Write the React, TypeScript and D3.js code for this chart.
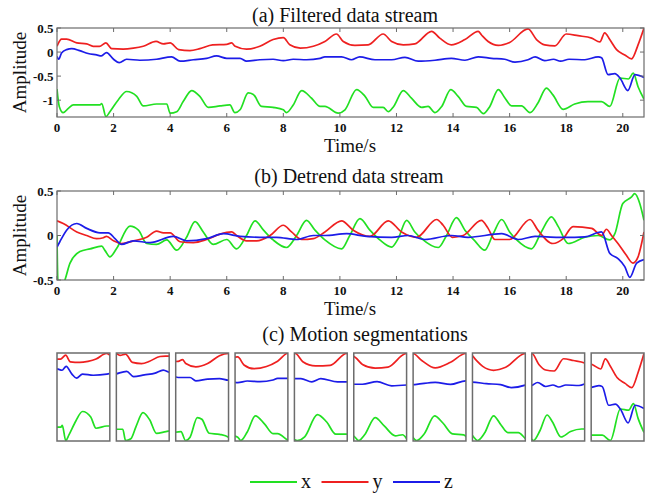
import React, { useEffect, useRef } from "react";
import * as d3 from "d3";

type Pt = [number, number];

// (a) filtered stream, [time, amplitude]
const filteredX: Pt[] = [
  [0, -0.77], [0.08, -1.13], [0.22, -1.26], [0.4, -1.17], [0.58, -1.1], [1.17, -1.1], [1.52, -1.1],
  [1.58, -1.07], [1.73, -1.34], [1.87, -1.24], [2.17, -0.99], [2.46, -0.82], [2.82, -0.92], [3.05, -1.12],
  [3.52, -1.08], [3.88, -1.08], [4.0, -1.27], [4.23, -1.24], [4.46, -1.03], [4.76, -0.8], [5.05, -0.92],
  [5.35, -1.15], [5.76, -1.12], [6.11, -1.1], [6.29, -1.26], [6.47, -1.2], [6.76, -0.85], [6.94, -0.88],
  [7.23, -1.13], [7.64, -1.15], [8.0, -1.2], [8.11, -1.26], [8.35, -1.1], [8.65, -0.8], [9.0, -0.96],
  [9.3, -1.13], [9.47, -1.13], [9.94, -1.27], [10.18, -1.2], [10.59, -0.78], [10.89, -0.92], [11.18, -1.15],
  [11.53, -1.15], [11.71, -1.24], [11.9, -1.13], [12.24, -0.8], [12.53, -0.96], [12.89, -1.15], [13.12, -1.13],
  [13.36, -1.26], [13.6, -1.13], [13.92, -0.78], [14.18, -0.92], [14.48, -1.13], [14.83, -1.15], [15.07, -1.28],
  [15.3, -1.13], [15.6, -0.78], [15.84, -0.96], [16.07, -1.12], [16.42, -1.12], [16.72, -1.26], [17.0, -1.06],
  [17.3, -0.75], [17.53, -0.89], [17.89, -1.19], [18.3, -1.08], [18.77, -1.03], [19.25, -1.03], [19.54, -1.13],
  [19.9, -0.54], [20.2, -0.56], [20.37, -0.44], [20.54, -0.72], [20.75, -0.98],
];
const filteredY: Pt[] = [
  [0, 0.12], [0.16, 0.27], [0.34, 0.27], [0.7, 0.19], [1.05, 0.17], [1.28, 0.12], [1.5, 0.12], [1.73, 0.19],
  [1.93, 0.07], [2.34, 0.06], [2.7, 0.08], [3.05, 0.12], [3.5, 0.22], [3.76, 0.17], [4.0, 0.19], [4.3, 0.05],
  [4.7, 0.03], [5.05, 0.07], [5.5, 0.15], [6.0, 0.16], [6.17, 0.19], [6.3, 0.12], [6.7, 0.06], [7.17, 0.12],
  [7.64, 0.26], [8.0, 0.3], [8.23, 0.15], [8.6, 0.08], [9.06, 0.12], [9.47, 0.22], [9.88, 0.375], [10.12, 0.22],
  [10.53, 0.14], [11.0, 0.15], [11.53, 0.375], [11.83, 0.22], [12.24, 0.15], [12.65, 0.17], [13.24, 0.43],
  [13.53, 0.29], [13.94, 0.15], [14.42, 0.26], [14.89, 0.43], [15.0, 0.36], [15.24, 0.22], [15.6, 0.14],
  [16.0, 0.2], [16.65, 0.48], [16.95, 0.26], [17.24, 0.15], [17.6, 0.13], [18.0, 0.375], [18.42, 0.34],
  [18.9, 0.29], [19.19, 0.21], [19.36, 0.4], [19.54, 0.26], [19.78, 0.05], [20.07, -0.06], [20.31, -0.14],
  [20.54, 0.15], [20.75, 0.5],
];
const filteredZ: Pt[] = [
  [0, -0.09], [0.06, -0.15], [0.16, -0.02], [0.34, 0.05], [0.52, 0.07], [0.8, 0.03], [1.1, -0.03], [1.4, -0.06],
  [1.57, -0.08], [1.75, -0.01], [2.0, -0.15], [2.2, -0.22], [2.46, -0.15], [2.93, -0.17], [3.52, -0.15],
  [4.05, -0.1], [4.35, -0.19], [4.82, -0.16], [5.29, -0.13], [5.64, -0.08], [6.0, -0.13], [6.47, -0.13],
  [6.7, -0.19], [7.17, -0.16], [7.64, -0.15], [8.0, -0.18], [8.35, -0.15], [8.82, -0.16], [9.3, -0.13],
  [9.47, -0.1], [10.06, -0.1], [10.41, -0.16], [10.7, -0.1], [11.24, -0.16], [11.83, -0.16], [12.3, -0.11],
  [12.77, -0.19], [13.36, -0.17], [13.94, -0.13], [14.42, -0.17], [14.89, -0.1], [15.36, -0.13], [15.83, -0.15],
  [16.19, -0.21], [16.65, -0.16], [16.9, -0.1], [17.24, -0.18], [17.55, -0.15], [17.8, -0.19], [18.1, -0.15],
  [18.66, -0.16], [19.13, -0.1], [19.25, -0.12], [19.48, -0.47], [19.72, -0.45], [19.9, -0.54], [20.18, -0.8],
  [20.43, -0.47], [20.75, -0.53],
];

// (b) detrended stream
const detrendX: Pt[] = [
  [0, 0.0], [0.03, -0.5], [0.15, -0.6], [0.28, -0.5], [0.46, -0.31], [0.81, -0.18], [1.17, -0.15], [1.58, -0.12],
  [1.7, -0.17], [1.87, -0.24], [2.1, -0.15], [2.58, 0.105], [2.88, 0.06], [3.17, -0.09], [3.52, -0.1],
  [3.88, -0.05], [4.23, -0.165], [4.58, -0.02], [4.88, 0.155], [5.17, 0.04], [5.52, -0.1], [6.0, -0.045],
  [6.35, -0.15], [6.7, 0.0], [7.0, 0.165], [7.3, 0.06], [7.64, -0.05], [8.11, -0.135], [8.47, 0.0], [8.82, 0.17],
  [9.12, 0.06], [9.47, -0.05], [10.06, -0.15], [10.35, 0.0], [10.71, 0.19], [11.06, 0.06], [11.41, -0.05],
  [11.83, -0.13], [12.06, -0.035], [12.36, 0.17], [12.65, 0.04], [12.89, -0.035], [13.48, -0.135], [13.77, 0.0],
  [14.12, 0.2], [14.42, 0.06], [14.77, -0.06], [15.12, -0.165], [15.42, 0.02], [15.72, 0.18], [16.0, 0.04],
  [16.25, -0.05], [16.77, -0.15], [17.12, 0.04], [17.48, 0.21], [17.72, 0.1], [18.07, -0.09], [18.66, -0.02],
  [19.13, 0.0], [19.54, -0.05], [19.72, 0.02], [20.0, 0.36], [20.3, 0.43], [20.42, 0.47], [20.6, 0.36],
  [20.75, 0.17],
];
const detrendY: Pt[] = [
  [0, 0.165], [0.22, 0.135], [0.7, 0.04], [1.05, 0.0], [1.4, -0.035], [1.64, -0.025], [1.75, -0.01], [2.0, -0.06],
  [2.28, -0.09], [2.7, -0.06], [3.17, -0.02], [3.52, 0.05], [3.76, 0.03], [4.0, 0.03], [4.35, -0.07],
  [4.82, -0.08], [5.29, -0.045], [5.76, 0.015], [6.17, 0.04], [6.35, 0.0], [6.7, -0.06], [7.06, -0.06],
  [7.53, 0.0], [8.0, 0.115], [8.29, 0.04], [8.65, -0.045], [9.06, -0.035], [9.47, 0.04], [10.06, 0.165],
  [10.47, 0.06], [11.06, -0.01], [11.71, 0.165], [12.18, 0.04], [12.71, -0.02], [13.42, 0.18], [13.65, 0.115],
  [13.97, -0.02], [14.36, 0.0], [15.0, 0.17], [15.24, 0.08], [15.48, -0.045], [16.0, -0.045], [16.72, 0.18],
  [17.0, 0.06], [17.53, -0.09], [17.89, -0.035], [18.24, 0.1], [18.9, 0.08], [19.25, 0.0], [19.42, 0.07],
  [19.6, 0.0], [19.83, -0.09], [20.12, -0.22], [20.36, -0.31], [20.54, -0.24], [20.75, 0.04],
];
const detrendZ: Pt[] = [
  [0, -0.13], [0.1, -0.07], [0.34, 0.06], [0.7, 0.135], [1.05, 0.08], [1.52, 0.03], [1.81, 0.03], [2.05, -0.035],
  [2.28, -0.1], [2.7, -0.06], [3.29, -0.08], [4.11, -0.01], [4.58, -0.06], [5.29, -0.035], [5.88, 0.02],
  [6.47, -0.01], [7.17, -0.02], [7.76, -0.02], [8.47, -0.045], [9.06, 0.0], [9.47, 0.0], [10.24, 0.02],
  [10.94, -0.01], [11.83, -0.02], [12.42, 0.0], [13.0, -0.045], [13.94, 0.0], [14.53, -0.02], [15.72, 0.02],
  [16.3, -0.045], [16.9, -0.01], [17.72, -0.02], [18.3, -0.02], [18.66, -0.015], [19.25, 0.04], [19.54, -0.2],
  [19.83, -0.26], [20.07, -0.35], [20.25, -0.47], [20.49, -0.31], [20.75, -0.27],
];

// (c) motion segments: [start, end] in seconds of the filtered stream
const segmentWindows: Pt[] = [
  [1.35, 3.65], [3.6, 5.9], [5.9, 8.0], [7.9, 9.85], [9.85, 11.55],
  [11.55, 13.25], [13.25, 14.9], [14.9, 16.65], [16.65, 18.9], [18.85, 20.75],
];

const timeTicks = [0, 2, 4, 6, 8, 10, 12, 14, 16, 18, 20];
const filteredTicks = [-1, -0.5, 0, 0.5];
const detrendTicks = [-0.5, 0, 0.5];
const legendLabels = ["x", "y", "z"];
const seriesColors = ["#22e022", "#ee2020", "#1c1ce8"];

const FONT = "'Liberation Serif', 'DejaVu Serif', serif";
const FRAME = "#6c6c6c";

const App = () => {
  const svgRef = useRef(null);

  useEffect(() => {
    const svg = d3.select(svgRef.current);
    svg.selectAll("*").remove();

    const left = 57;
    const right = 644;
    const x = d3.scaleLinear().domain([0, 20.75]).range([left, right]);
    const lineFor = (xs, ys) =>
      d3
        .line<Pt>()
        .x((d) => xs(d[0]))
        .y((d) => ys(d[1]))
        .curve(d3.curveMonotoneX);

    const text = (g, str, px, py, size, opts: any = {}) =>
      g
        .append("text")
        .attr("x", px)
        .attr("y", py)
        .attr("font-family", FONT)
        .attr("font-size", size)
        .attr("font-weight", opts.bold ? "bold" : "normal")
        .attr("text-anchor", opts.anchor || "middle")
        .attr("fill", "#111")
        .text(str);

    const drawPanel = (id, top, bottom, yDomain, yTicks, series, title, titleX, titleY) => {
      const y = d3.scaleLinear().domain(yDomain).range([bottom, top]);
      const g = svg.append("g");

      g.append("clipPath")
        .attr("id", id)
        .append("rect")
        .attr("x", left)
        .attr("y", top)
        .attr("width", right - left)
        .attr("height", bottom - top);

      series.forEach((s, i) => {
        g.append("path")
          .attr("d", lineFor(x, y)(s))
          .attr("fill", "none")
          .attr("stroke", seriesColors[i])
          .attr("stroke-width", 1.7)
          .attr("clip-path", `url(#${id})`);
      });

      g.append("rect")
        .attr("x", left)
        .attr("y", top)
        .attr("width", right - left)
        .attr("height", bottom - top)
        .attr("fill", "none")
        .attr("stroke", FRAME)
        .attr("stroke-width", 1.2);

      // inward ticks on all four sides
      timeTicks.forEach((t) => {
        g.append("line").attr("x1", x(t)).attr("x2", x(t)).attr("y1", bottom).attr("y2", bottom - 4).attr("stroke", FRAME);
        g.append("line").attr("x1", x(t)).attr("x2", x(t)).attr("y1", top).attr("y2", top + 4).attr("stroke", FRAME);
        text(g, t, x(t), bottom + 14.5, 13, { bold: true });
      });
      yTicks.forEach((v) => {
        g.append("line").attr("x1", left).attr("x2", left + 4).attr("y1", y(v)).attr("y2", y(v)).attr("stroke", FRAME);
        g.append("line").attr("x1", right).attr("x2", right - 4).attr("y1", y(v)).attr("y2", y(v)).attr("stroke", FRAME);
        text(g, v, left - 3.5, y(v) + 4.5, 13, { bold: true, anchor: "end" });
      });

      text(g, title, titleX, titleY, 20);
      text(g, "Time/s", 350, bottom + 35, 19);
      g.append("text")
        .attr("transform", `translate(26,${(top + bottom) / 2}) rotate(-90)`)
        .attr("font-family", FONT)
        .attr("font-size", 19)
        .attr("text-anchor", "middle")
        .attr("fill", "#111")
        .text("Amplitude");
    };

    drawPanel("clipA", 28, 117, [-1.35, 0.5], filteredTicks, [filteredX, filteredY, filteredZ], "(a) Filtered data stream", 345, 22);
    drawPanel("clipB", 191, 280, [-0.5, 0.5], detrendTicks, [detrendX, detrendY, detrendZ], "(b) Detrend data stream", 349, 183);

    // (c) motion segmentations
    const segTop = 353;
    const segBottom = 441;
    const band = d3
      .scaleBand()
      .domain(segmentWindows.map((_, i) => String(i)))
      .range([left, right])
      .paddingInner(0.11)
      .paddingOuter(0);
    const filtered = [filteredX, filteredY, filteredZ];
    const gc = svg.append("g");
    text(gc, "(c) Motion segmentations", 365, 341, 20);

    segmentWindows.forEach(([s0, e0], i) => {
      const bx = band(String(i));
      const bw = band.bandwidth();
      const vals: number[] = [];
      filtered.forEach((s) => {
        const interp = d3.scaleLinear().domain(s.map((d) => d[0])).range(s.map((d) => d[1]));
        vals.push(interp(s0), interp(e0));
        s.forEach((d) => {
          if (d[0] >= s0 && d[0] <= e0) vals.push(d[1]);
        });
      });
      const xs = d3.scaleLinear().domain([s0, e0]).range([bx, bx + bw]);
      const ys = d3.scaleLinear().domain(d3.extent(vals)).range([segBottom - 0.5, segTop + 0.5]);
      const cid = `clipSeg${i}`;
      gc.append("clipPath")
        .attr("id", cid)
        .append("rect")
        .attr("x", bx)
        .attr("y", segTop)
        .attr("width", bw)
        .attr("height", segBottom - segTop);
      filtered.forEach((s, k) => {
        gc.append("path")
          .attr("d", lineFor(xs, ys)(s))
          .attr("fill", "none")
          .attr("stroke", seriesColors[k])
          .attr("stroke-width", 1.7)
          .attr("clip-path", `url(#${cid})`);
      });
      gc.append("rect")
        .attr("x", bx)
        .attr("y", segTop)
        .attr("width", bw)
        .attr("height", segBottom - segTop)
        .attr("fill", "none")
        .attr("stroke", FRAME)
        .attr("stroke-width", 1.5);
    });

    // legend
    const gl = svg.append("g");
    legendLabels.forEach((lab, i) => {
      const lx = 250 + i * 71.5;
      gl.append("line")
        .attr("x1", lx)
        .attr("x2", lx + 47)
        .attr("y1", 482)
        .attr("y2", 482)
        .attr("stroke", seriesColors[i])
        .attr("stroke-width", 1.8);
      text(gl, lab, lx + 51, 488, 20, { anchor: "start" });
    });
  }, []);

  return (
    <svg
      ref={svgRef}
      width={650}
      height={493}
      style={{ position: "absolute", left: 0, top: 0, background: "#fff" }}
    ></svg>
  );
};

export default App;
